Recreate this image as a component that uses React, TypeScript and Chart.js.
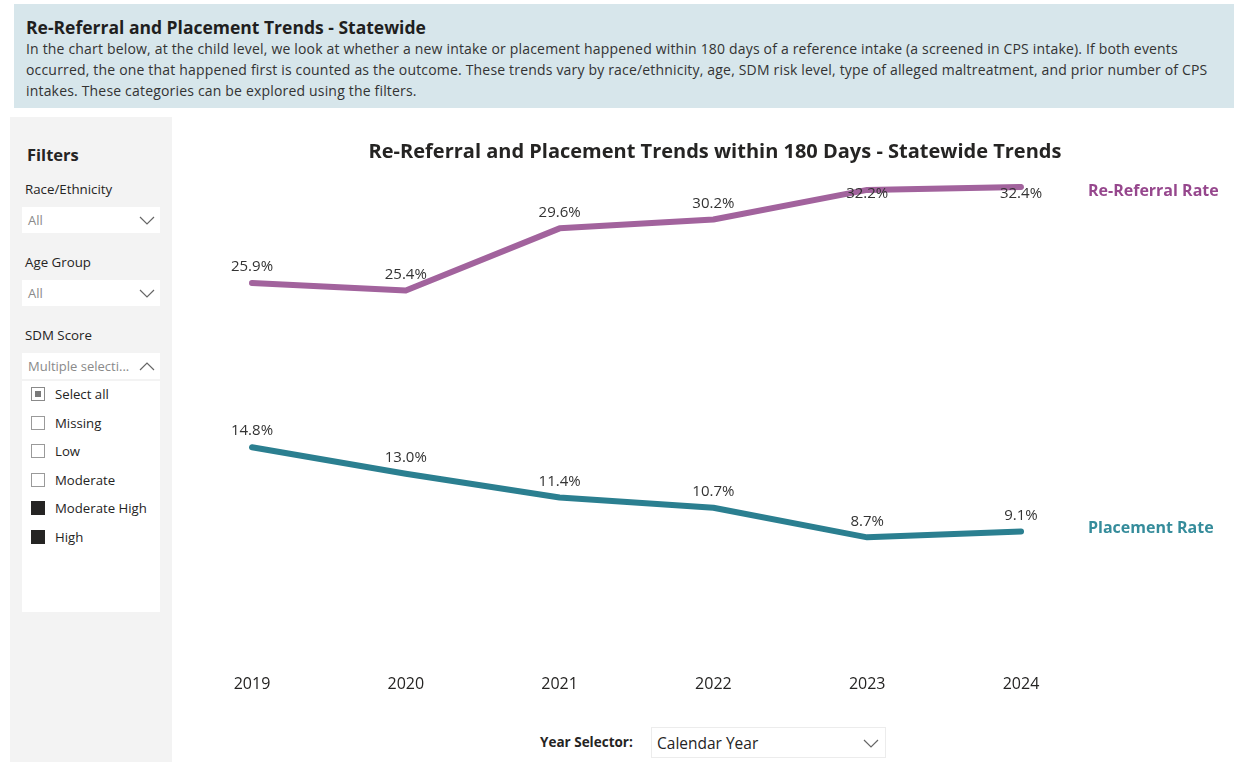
import React, { useEffect, useRef } from 'react';
import { Chart, registerables } from 'chart.js';

Chart.register(...registerables);

const years = ['2019', '2020', '2021', '2022', '2023', '2024'];
const reReferralRate = [25.9, 25.4, 29.6, 30.2, 32.2, 32.4];
const placementRate = [14.8, 13.0, 11.4, 10.7, 8.7, 9.1];
const seriesNames = ['Re-Referral Rate', 'Placement Rate'];
const chartTitle = 'Re-Referral and Placement Trends within 180 Days - Statewide Trends';
const pageTitle = 'Re-Referral and Placement Trends - Statewide';
const descriptionLines = [
  'In the chart below, at the child level, we look at whether a new intake or placement happened within 180 days of a reference intake (a screened in CPS intake). If both events',
  'occurred, the one that happened first is counted as the outcome. These trends vary by race/ethnicity, age, SDM risk level, type of alleged maltreatment, and prior number of CPS',
  'intakes. These categories can be explored using the filters.',
];
const sdmOptions = ['Select all', 'Missing', 'Low', 'Moderate', 'Moderate High', 'High'];
const sdmState = ['partial', 'off', 'off', 'off', 'on', 'on'];

const PURPLE = '#a2639d';
const PURPLE_TEXT = '#96478d';
const TEAL = '#2b7f90';
const TEAL_TEXT = '#358c9b';
const FONT = '"Open Sans", "Noto Sans", sans-serif';

const labelsPlugin = {
  id: 'customLabels',
  afterDatasetsDraw(chart: any) {
    const ctx = chart.ctx;
    const area = chart.chartArea;
    ctx.save();
    chart.data.datasets.forEach((ds: any, i: number) => {
      const meta = chart.getDatasetMeta(i);
      ctx.font = `15px ${FONT}`;
      ctx.fillStyle = '#333333';
      ctx.textAlign = 'center';
      ctx.textBaseline = 'middle';
      meta.data.forEach((pt: any, j: number) => {
        const v = ds.data[j] as number;
        let y = pt.y - 16;
        if (y < area.top + 10) y = area.top + 10;
        ctx.fillText(v.toFixed(1) + '%', pt.x, y);
      });
      const last = meta.data[meta.data.length - 1];
      ctx.font = `bold 16px ${FONT}`;
      ctx.fillStyle = ds.nameColor;
      ctx.textAlign = 'left';
      ctx.fillText(ds.label, area.right + 67, last.y + ds.nameOffset);
    });
    ctx.font = `bold 20px ${FONT}`;
    ctx.fillStyle = '#252423';
    ctx.textAlign = 'center';
    ctx.textBaseline = 'middle';
    ctx.fillText(chartTitle, 535, 27);
    ctx.restore();
  },
};

function LineChart() {
  const ref = useRef<HTMLCanvasElement | null>(null);
  useEffect(() => {
    if (!ref.current) return;
    const chart = new Chart(ref.current, {
      type: 'line',
      data: {
        labels: years,
        datasets: [
          {
            label: seriesNames[0],
            data: reReferralRate,
            borderColor: PURPLE,
            backgroundColor: PURPLE,
            borderWidth: 6,
            pointRadius: 0,
            borderJoinStyle: 'round',
            borderCapStyle: 'round',
            tension: 0,
            nameColor: PURPLE_TEXT,
            nameOffset: 4,
          } as any,
          {
            label: seriesNames[1],
            data: placementRate,
            borderColor: TEAL,
            backgroundColor: TEAL,
            borderWidth: 6,
            pointRadius: 0,
            borderJoinStyle: 'round',
            borderCapStyle: 'round',
            tension: 0,
            nameColor: TEAL_TEXT,
            nameOffset: -3,
          } as any,
        ],
      },
      options: {
        animation: false,
        responsive: true,
        maintainAspectRatio: false,
        layout: { padding: { left: 72, right: 213, top: 59, bottom: 0 } },
        plugins: {
          legend: { display: false },
          title: { display: false },
          tooltip: { enabled: false },
        },
        scales: {
          x: {
            grid: { display: false, drawTicks: false },
            border: { display: false },
            ticks: {
              font: { family: FONT, size: 16 },
              color: '#252423',
              padding: 9,
              maxRotation: 0,
            },
            afterFit: (scale: any) => {
              scale.height = 44;
            },
          },
          y: {
            display: false,
            min: 0,
            max: 32.6,
          },
        },
      },
      plugins: [labelsPlugin],
    });
    return () => chart.destroy();
  }, []);
  return <canvas ref={ref} />;
}

function Chevron({ up = false }: { up?: boolean }) {
  return (
    <svg width="16" height="9" viewBox="0 0 16 9" style={{ display: 'block' }}>
      <polyline
        points={up ? '1,8 8,1 15,8' : '1,1 8,8 15,1'}
        fill="none"
        stroke="#666"
        strokeWidth="1.2"
      />
    </svg>
  );
}

function Dropdown({ top, text, up = false }: { top: number; text: string; up?: boolean }) {
  return (
    <div
      style={{
        position: 'absolute',
        left: 22,
        top,
        width: 138,
        height: 26,
        background: '#ffffff',
      }}
    >
      <div
        style={{
          position: 'absolute',
          left: 6,
          top: 0,
          lineHeight: '26px',
          fontSize: 13,
          color: '#8a8a8a',
          whiteSpace: 'nowrap',
        }}
      >
        {text}
      </div>
      <div style={{ position: 'absolute', right: 5, top: 9 }}>
        <Chevron up={up} />
      </div>
    </div>
  );
}

function Checkbox({ state }: { state: string }) {
  const base: React.CSSProperties = {
    position: 'absolute',
    left: 0,
    top: 0,
    width: 14,
    height: 14,
    boxSizing: 'border-box',
  };
  if (state === 'on') {
    return <div style={{ ...base, background: '#252423', border: '1px solid #252423' }} />;
  }
  if (state === 'partial') {
    return (
      <div style={{ ...base, background: '#fff', border: '1px solid #8a8a8a' }}>
        <div style={{ position: 'absolute', left: 3, top: 3, width: 6, height: 6, background: '#7a7a7a' }} />
      </div>
    );
  }
  return <div style={{ ...base, background: '#fff', border: '1px solid #9a9a9a' }} />;
}

function FilterPanel() {
  const label = (text: string, cy: number) => (
    <div
      style={{
        position: 'absolute',
        left: 15,
        top: cy - 117 - 10,
        lineHeight: '20px',
        fontSize: 13.3,
        color: '#252423',
        whiteSpace: 'nowrap',
      }}
    >
      {text}
    </div>
  );
  const itemCenters = [394, 423, 451, 480, 508, 537];
  return (
    <div
      style={{
        position: 'absolute',
        left: 10,
        top: 117,
        width: 162,
        height: 645,
        background: '#f3f3f3',
        fontFamily: FONT,
      }}
    >
      <div
        style={{
          position: 'absolute',
          left: 17,
          top: 155 - 117 - 12,
          lineHeight: '24px',
          fontSize: 16.5,
          fontWeight: 700,
          color: '#252423',
        }}
      >
        Filters
      </div>
      {label('Race/Ethnicity', 189)}
      <div style={{ position: 'absolute', left: -10, top: -117 }}>
        <Dropdown top={207} text="All" />
      </div>
      {label('Age Group', 262)}
      <div style={{ position: 'absolute', left: -10, top: -117 }}>
        <Dropdown top={280} text="All" />
      </div>
      {label('SDM Score', 335)}
      <div style={{ position: 'absolute', left: -10, top: -117 }}>
        <Dropdown top={353} text="Multiple selecti..." up />
        <div
          style={{
            position: 'absolute',
            left: 22,
            top: 381,
            width: 138,
            height: 231,
            background: '#ffffff',
          }}
        />
        {sdmOptions.map((opt, i) => (
          <div key={opt} style={{ position: 'absolute', left: 31, top: itemCenters[i] - 7, width: 125, height: 14 }}>
            <Checkbox state={sdmState[i]} />
            <div
              style={{
                position: 'absolute',
                left: 24,
                top: -3,
                lineHeight: '20px',
                fontSize: 13.2,
                color: '#252423',
                whiteSpace: 'nowrap',
              }}
            >
              {opt}
            </div>
          </div>
        ))}
      </div>
    </div>
  );
}

export default function App() {
  return (
    <div
      style={{
        position: 'fixed',
        left: 0,
        top: 0,
        width: 1234,
        height: 762,
        background: '#ffffff',
        overflow: 'hidden',
        fontFamily: FONT,
      }}
    >
      <div
        style={{
          position: 'absolute',
          left: 14,
          top: 4,
          width: 1220,
          height: 104,
          background: '#d7e6eb',
        }}
      >
        <div
          style={{
            position: 'absolute',
            left: 12,
            top: 12,
            lineHeight: '22px',
            fontSize: 17.5,
            fontWeight: 700,
            color: '#1f1f1f',
            whiteSpace: 'nowrap',
          }}
        >
          {pageTitle}
        </div>
        <div
          style={{
            position: 'absolute',
            left: 12,
            top: 34,
            lineHeight: '21px',
            fontSize: 14,
            letterSpacing: '0.18px',
            color: '#333333',
            whiteSpace: 'nowrap',
          }}
        >
          {descriptionLines.map((l, i) => (
            <div key={i}>{l}</div>
          ))}
        </div>
      </div>

      <FilterPanel />

      <div style={{ position: 'absolute', left: 180, top: 125, width: 1054, height: 585 }}>
        <LineChart />
      </div>

      <div
        style={{
          position: 'absolute',
          left: 540,
          top: 732,
          lineHeight: '20px',
          fontSize: 13.5,
          fontWeight: 700,
          color: '#252423',
          whiteSpace: 'nowrap',
        }}
      >
        Year Selector:
      </div>
      <div
        style={{
          position: 'absolute',
          left: 651,
          top: 727,
          width: 235,
          height: 31,
          background: '#ffffff',
          border: '1px solid #ececec',
          boxSizing: 'border-box',
        }}
      >
        <div
          style={{
            position: 'absolute',
            left: 5,
            top: 0,
            lineHeight: '31px',
            fontSize: 15.5,
            color: '#252423',
            whiteSpace: 'nowrap',
          }}
        >
          Calendar Year
        </div>
        <div style={{ position: 'absolute', right: 6, top: 11 }}>
          <Chevron />
        </div>
      </div>
    </div>
  );
}
